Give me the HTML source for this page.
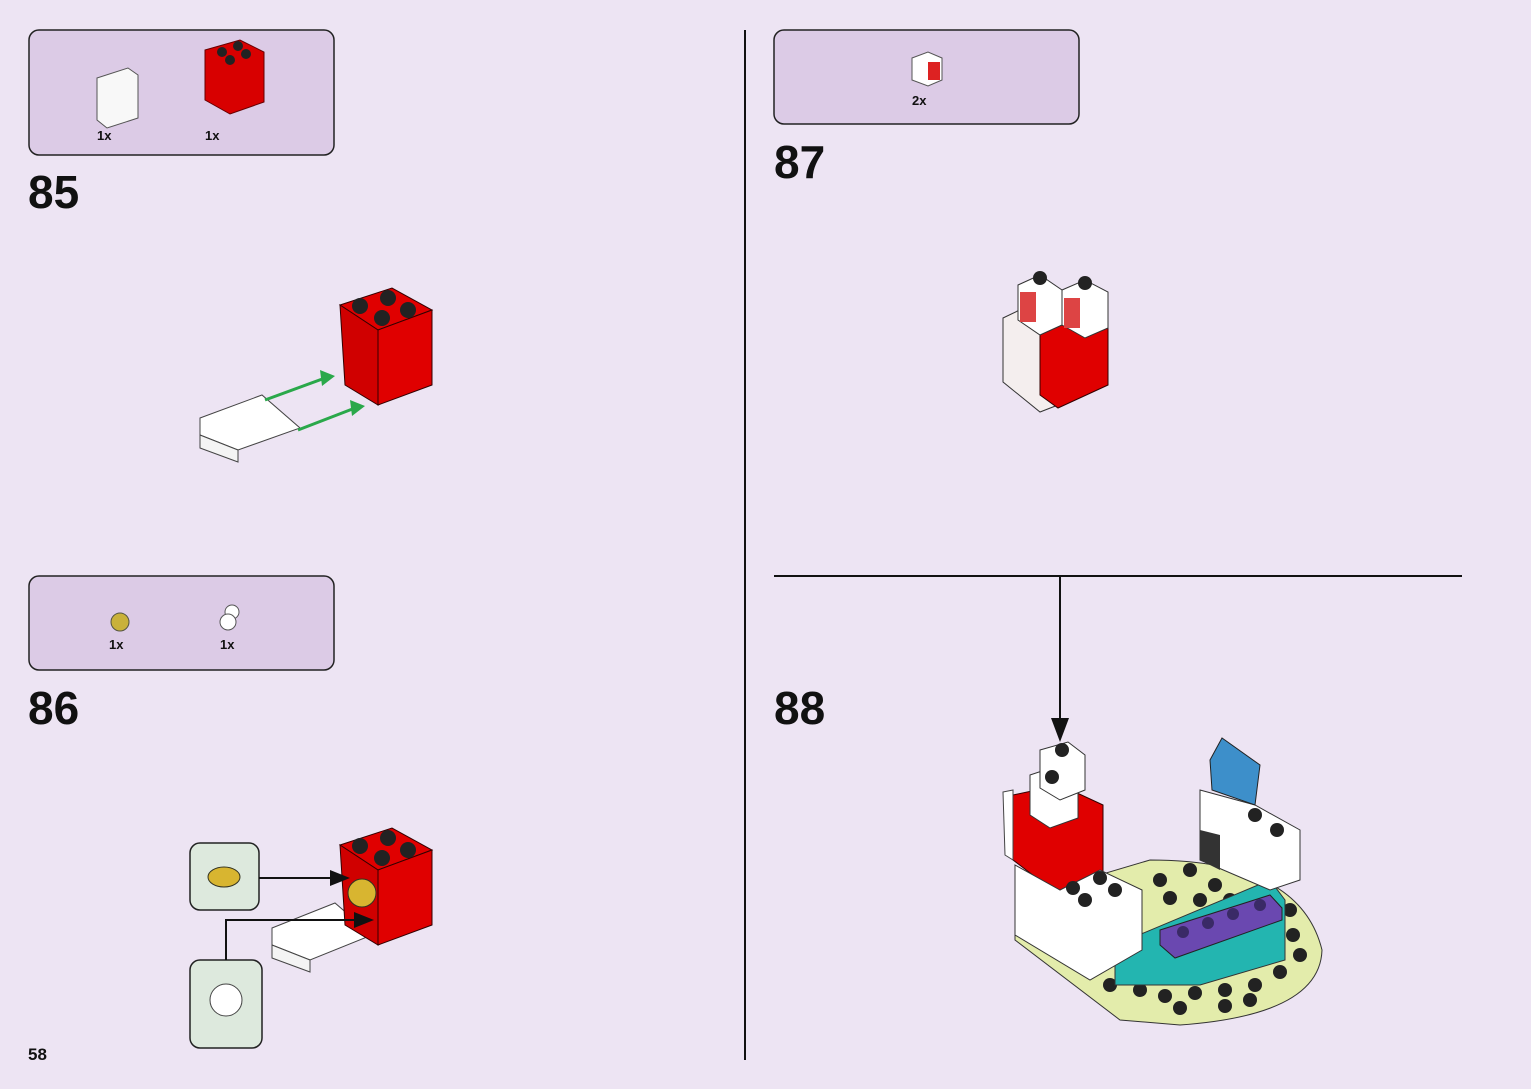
<!DOCTYPE html>
<html><head><meta charset="utf-8"><style>
body{margin:0;background:#ede4f3;}
svg{display:block;font-family:"Liberation Sans",sans-serif;}
</style></head><body>
<svg width="1531" height="1089" viewBox="0 0 1531 1089">
<rect width="1531" height="1089" fill="#ede4f3"/>
<!-- divider -->
<line x1="745" y1="30" x2="745" y2="1060" stroke="#111" stroke-width="2"/>
<line x1="774" y1="576" x2="1462" y2="576" stroke="#111" stroke-width="2"/>
<line x1="1060" y1="576" x2="1060" y2="725" stroke="#111" stroke-width="2"/>
<polygon points="1051,718 1069,718 1060,742" fill="#111"/>

<!-- part boxes -->
<rect x="29" y="30" width="305" height="125" rx="10" fill="#dccbe6" stroke="#222" stroke-width="1.5"/>
<rect x="29" y="576" width="305" height="94" rx="10" fill="#dccbe6" stroke="#222" stroke-width="1.5"/>
<rect x="774" y="30" width="305" height="94" rx="10" fill="#dccbe6" stroke="#222" stroke-width="1.5"/>

<g font-weight="bold" font-size="13" fill="#111">
<text x="97" y="140">1x</text><text x="205" y="140">1x</text>
<text x="109" y="649">1x</text><text x="220" y="649">1x</text>
<text x="912" y="105">2x</text>
</g>
<g font-weight="bold" font-size="46" fill="#111">
<text x="28" y="208">85</text><text x="28" y="724">86</text>
<text x="774" y="178">87</text><text x="774" y="724">88</text>
</g>
<text x="28" y="1060" font-weight="bold" font-size="17" fill="#111">58</text>

<!-- box 85 parts -->
<polygon points="97,78 128,68 138,75 138,118 107,128 97,120" fill="#f8f8f8" stroke="#555"/>
<polygon points="205,50 240,40 264,52 264,102 230,114 205,100" fill="#d80000" stroke="#600"/>
<circle cx="222" cy="52" r="5" fill="#222"/><circle cx="238" cy="46" r="5" fill="#222"/><circle cx="230" cy="60" r="5" fill="#222"/><circle cx="246" cy="54" r="5" fill="#222"/>
<!-- box 86 parts -->
<circle cx="120" cy="622" r="9" fill="#c9b13a" stroke="#554"/>
<circle cx="232" cy="612" r="7" fill="#fff" stroke="#555"/><circle cx="228" cy="622" r="8" fill="#fff" stroke="#555"/>
<!-- box 87 part -->
<polygon points="912,58 928,52 942,58 942,80 928,86 912,80" fill="#fff" stroke="#555"/>
<rect x="928" y="62" width="12" height="18" fill="#d22"/>

<!-- step 85 model -->
<polygon points="200,418 262,395 300,428 238,450 200,435" fill="#fff" stroke="#444"/>
<polygon points="200,435 238,450 238,462 200,448" fill="#f4f4f4" stroke="#444"/>
<polygon points="340,305 392,288 432,310 378,330" fill="#e00000" stroke="#300"/>
<polygon points="340,305 378,330 378,405 345,385" fill="#d00000" stroke="#300"/>
<polygon points="378,330 432,310 432,385 378,405" fill="#e00000" stroke="#300"/>
<g fill="#222"><circle cx="360" cy="306" r="8"/><circle cx="388" cy="298" r="8"/><circle cx="382" cy="318" r="8"/><circle cx="408" cy="310" r="8"/></g>
<line x1="265" y1="400" x2="325" y2="378" stroke="#2aa84a" stroke-width="3"/>
<polygon points="320,370 335,376 322,386" fill="#2aa84a"/>
<line x1="298" y1="430" x2="355" y2="408" stroke="#2aa84a" stroke-width="3"/>
<polygon points="350,400 365,406 352,416" fill="#2aa84a"/>

<!-- step 86 model -->
<polygon points="272,928 335,903 372,935 310,960 272,945" fill="#fff" stroke="#444"/>
<polygon points="272,945 310,960 310,972 272,958" fill="#f4f4f4" stroke="#444"/>
<polygon points="340,845 392,828 432,850 378,870" fill="#e00000" stroke="#300"/>
<polygon points="340,845 378,870 378,945 345,925" fill="#d00000" stroke="#300"/>
<polygon points="378,870 432,850 432,925 378,945" fill="#e00000" stroke="#300"/>
<g fill="#222"><circle cx="360" cy="846" r="8"/><circle cx="388" cy="838" r="8"/><circle cx="382" cy="858" r="8"/><circle cx="408" cy="850" r="8"/></g>
<circle cx="362" cy="893" r="14" fill="#d8b530" stroke="#332"/>
<rect x="190" y="843" width="69" height="67" rx="10" fill="#dde9dd" stroke="#222" stroke-width="1.5"/>
<rect x="190" y="960" width="72" height="88" rx="10" fill="#dde9dd" stroke="#222" stroke-width="1.5"/>
<ellipse cx="224" cy="877" rx="16" ry="10" fill="#d8b530" stroke="#332"/>
<circle cx="226" cy="1000" r="16" fill="#fff" stroke="#444"/>
<line x1="259" y1="878" x2="338" y2="878" stroke="#111" stroke-width="2"/>
<polygon points="330,870 350,878 330,886" fill="#111"/>
<polyline points="226,960 226,920 360,920" fill="none" stroke="#111" stroke-width="2"/>
<polygon points="354,912 374,920 354,928" fill="#111"/>

<!-- step 87 model -->
<polygon points="1003,318 1030,305 1058,330 1058,405 1040,412 1003,382" fill="#f4eeee" stroke="#333"/>
<polygon points="1040,330 1108,310 1108,385 1058,408 1040,395" fill="#e00000" stroke="#300"/>
<polygon points="1018,285 1040,275 1062,290 1062,325 1040,335 1018,320" fill="#fff" stroke="#333"/>
<polygon points="1062,290 1085,280 1108,292 1108,328 1085,338 1062,325" fill="#fff" stroke="#333"/>
<rect x="1020" y="292" width="16" height="30" fill="#d44"/>
<rect x="1064" y="298" width="16" height="30" fill="#d44"/>
<circle cx="1040" cy="278" r="7" fill="#222"/><circle cx="1085" cy="283" r="7" fill="#222"/>

<!-- step 88 model -->
<path d="M1015,900 L1150,860 Q1300,860 1322,950 Q1320,1015 1180,1025 L1120,1020 L1015,940 Z" fill="#e3ecab" stroke="#333"/>
<g fill="#222">
<circle cx="1160" cy="880" r="7"/><circle cx="1190" cy="870" r="7"/><circle cx="1215" cy="885" r="7"/><circle cx="1170" cy="898" r="7"/><circle cx="1200" cy="900" r="7"/><circle cx="1230" cy="900" r="7"/>
<circle cx="1290" cy="910" r="7"/><circle cx="1293" cy="935" r="7"/><circle cx="1300" cy="955" r="7"/><circle cx="1280" cy="972" r="7"/><circle cx="1255" cy="985" r="7"/><circle cx="1225" cy="990" r="7"/><circle cx="1195" cy="993" r="7"/><circle cx="1165" cy="996" r="7"/><circle cx="1140" cy="990" r="7"/><circle cx="1110" cy="985" r="7"/><circle cx="1225" cy="1006" r="7"/><circle cx="1250" cy="1000" r="7"/><circle cx="1180" cy="1008" r="7"/>
</g>
<path d="M1115,945 L1270,880 L1285,900 L1285,960 L1200,985 L1115,985 Z" fill="#23b5b0" stroke="#333"/>
<polygon points="1160,930 1270,895 1282,908 1282,920 1175,958 1160,945" fill="#6a48b0" stroke="#222"/>
<g fill="#3a2a66"><circle cx="1183" cy="932" r="6"/><circle cx="1208" cy="923" r="6"/><circle cx="1233" cy="914" r="6"/><circle cx="1260" cy="905" r="6"/></g>
<polygon points="1200,790 1255,805 1300,830 1300,880 1270,890 1200,860" fill="#fff" stroke="#333"/>
<polygon points="1200,830 1220,835 1220,870 1200,860" fill="#333"/>
<polygon points="1210,760 1222,738 1260,765 1255,805 1212,790" fill="#3d8fca" stroke="#222"/>
<circle cx="1255" cy="815" r="7" fill="#222"/><circle cx="1277" cy="830" r="7" fill="#222"/>
<polygon points="1013,795 1060,785 1103,805 1103,880 1055,892 1013,860" fill="#e00000" stroke="#300"/>
<polygon points="1003,792 1013,790 1013,860 1005,855" fill="#fff" stroke="#444"/>
<polygon points="1030,775 1060,765 1078,780 1078,818 1050,828 1030,815" fill="#fff" stroke="#333"/>
<polygon points="1040,750 1068,742 1085,755 1085,790 1060,800 1040,788" fill="#fff" stroke="#333"/>
<circle cx="1062" cy="750" r="7" fill="#222"/><circle cx="1052" cy="777" r="7" fill="#222"/>
<polygon points="1015,865 1060,890 1100,870 1142,890 1142,950 1090,980 1015,935" fill="#fff" stroke="#333"/>
<g fill="#222"><circle cx="1073" cy="888" r="7"/><circle cx="1100" cy="878" r="7"/><circle cx="1085" cy="900" r="7"/><circle cx="1115" cy="890" r="7"/></g>
</svg>
</body></html>
